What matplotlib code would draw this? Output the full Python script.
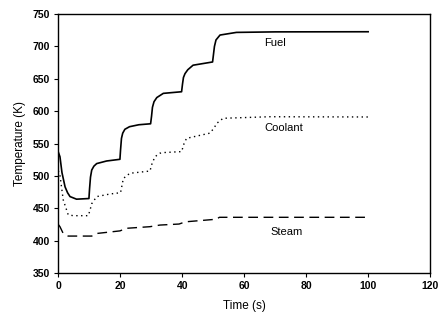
import matplotlib
matplotlib.use("Agg")
import matplotlib.pyplot as plt

plt.rcParams['font.family'] = ['Liberation Sans', 'DejaVu Sans']

# values
fuel_t = [0, 0.55, 1.2, 2.2, 3.0, 3.8, 5.9, 9.9, 10.1, 10.4, 10.8, 11.5, 12.4, 15.6, 19.9,
          20.1, 20.4, 20.8, 21.5, 23.0, 26.0, 29.8, 30.1, 30.4, 30.9, 31.8, 33.9, 39.8,
          40.1, 40.4, 40.9, 41.8, 43.5, 49.8, 50.1, 50.4, 50.9, 52.2, 57.5, 70, 100]
fuel_v = [537, 529.6, 505, 483, 474, 468, 464, 465, 480, 498, 509, 515, 519, 523, 525.6,
          540, 558, 566, 572, 576, 579, 580.5, 592, 606, 614.6, 621, 627.5, 630,
          642, 652, 658, 664, 671, 676, 688, 700, 710, 717.6, 721.7, 722.5, 722.7]

cool_t = [0, 0.55, 1.6, 3.2, 4.8, 9.7, 10.3, 10.8, 12.4, 16.7, 20.1, 20.6, 21.0, 23.1, 29.6,
          30.2, 31.2, 32.8, 33.9, 39.8, 40.6, 41.4, 48.9, 50.3, 51.1, 53.2, 68.3, 100]
cool_v = [508, 501, 463, 440, 438.5, 438.5, 448, 457, 468, 472, 474, 486, 496, 504, 507.5,
          518, 529.6, 535, 536, 537.5, 550, 558, 566, 574, 581, 589, 591.4, 591]

steam_t = [0, 0.55, 1.6, 3.2, 10.8, 12.4, 19.9, 22.0, 29.6, 32.8, 39.0, 41.0, 51.0, 52.0, 100]
steam_v = [425, 421.5, 411, 407, 407, 411, 415, 419, 421.5, 424, 425.6, 429, 433, 436, 436]

x_ticks = [0, 20, 40, 60, 80, 100, 120]
y_ticks = [350, 400, 450, 500, 550, 600, 650, 700, 750]

fig = plt.figure(figsize=(4.38, 3.2), dpi=100)
ax = fig.add_axes([0.133, 0.147, 0.849, 0.809])

ax.plot(fuel_t, fuel_v, color='black', lw=1.2, ls='-')
ax.plot(cool_t, cool_v, color='black', lw=1.0, ls=(0, (1, 2.5)))
ax.plot(steam_t, steam_v, color='black', lw=1.0, ls=(0, (7, 4)))

ax.text(70, 705, 'Fuel', ha='center', va='center', fontsize=8)
ax.text(72.7, 574, 'Coolant', ha='center', va='center', fontsize=8)
ax.text(73.7, 413, 'Steam', ha='center', va='center', fontsize=8)

ax.set_xlim(0, 120)
ax.set_ylim(350, 750)
ax.set_xticks(x_ticks)
ax.set_yticks(y_ticks)
ax.tick_params(direction='out', length=3, width=0.8, labelsize=7.5, pad=3)
for lab in ax.get_xticklabels() + ax.get_yticklabels():
    lab.set_fontweight('bold')
for sp in ax.spines.values():
    sp.set_linewidth(1.0)

ax.set_xlabel('Time (s)', fontsize=8.5, labelpad=6)
ax.set_ylabel('Temperature (K)', fontsize=8.5, labelpad=5)

fig.savefig('out.png', dpi=100)
